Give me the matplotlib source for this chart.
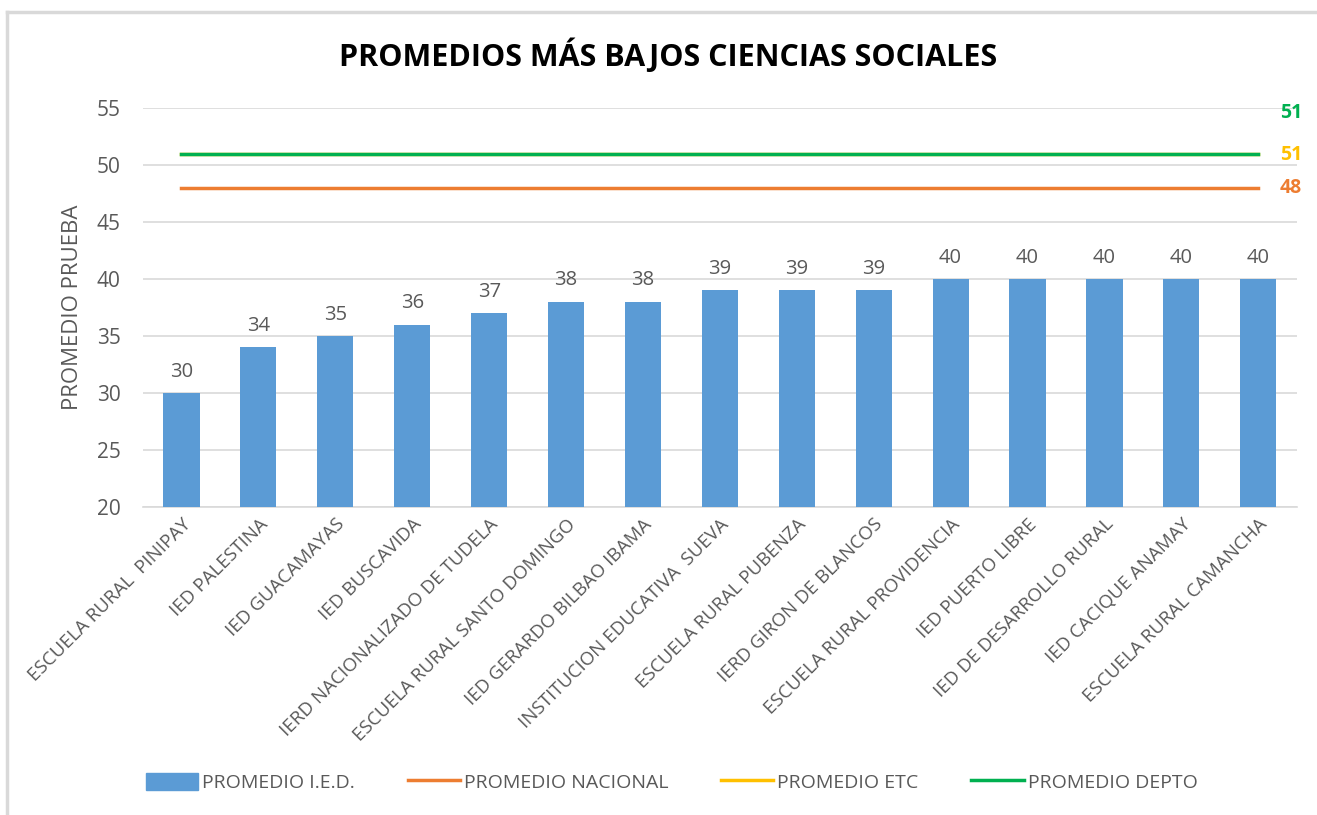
import matplotlib.pyplot as plt
from matplotlib.lines import Line2D
from matplotlib.patches import Patch

escuelas = ['ESCUELA RURAL  PINIPAY', 'IED PALESTINA', 'IED GUACAMAYAS', 'IED BUSCAVIDA',
            'IERD NACIONALIZADO DE TUDELA', 'ESCUELA RURAL SANTO DOMINGO', 'IED GERARDO BILBAO IBAMA',
            'INSTITUCION EDUCATIVA  SUEVA', 'ESCUELA RURAL PUBENZA', 'IERD GIRON DE BLANCOS',
            'ESCUELA RURAL PROVIDENCIA', 'IED PUERTO LIBRE', 'IED DE DESARROLLO RURAL',
            'IED CACIQUE ANAMAY', 'ESCUELA RURAL CAMANCHA']
promedio_ied = [30, 34, 35, 36, 37, 38, 38, 39, 39, 39, 40, 40, 40, 40, 40]
promedio_nacional = 48
promedio_etc = 51
promedio_depto = 51

gris = '#595959'
azul = '#5B9BD5'
naranja = '#ED7D31'
amarillo = '#FFC000'
verde = '#00B050'

plt.rcParams['font.family'] = ['Open Sans', 'DejaVu Sans']

fig = plt.figure(figsize=(13.17, 8.15), dpi=100)
ax = fig.add_axes([0.1086, 0.378, 0.876, 0.4895])

x = list(range(len(escuelas)))
ax.bar(x, [v - 20 for v in promedio_ied], bottom=20, width=0.47, color=azul, zorder=3)
for i, v in zip(x, promedio_ied):
    ax.text(i, v + 1.0, str(v), ha='center', va='bottom', fontsize=14.5, color=gris)

ax.plot([x[0], x[-1]], [promedio_nacional] * 2, color=naranja, lw=2.5, zorder=4)
ax.plot([x[0], x[-1]], [promedio_etc] * 2, color=amarillo, lw=2.5, zorder=4)
ax.plot([x[0], x[-1]], [promedio_depto] * 2, color=verde, lw=2.5, zorder=5)

ax.text(x[-1] + 0.28, promedio_nacional, str(promedio_nacional), color=naranja,
        fontsize=14, fontweight='bold', va='center', ha='left')
ax.text(x[-1] + 0.28, promedio_etc - 0.1, str(promedio_etc), color=amarillo,
        fontsize=14, fontweight='bold', va='center', ha='left')
ax.text(x[-1] + 0.28, 54.6, str(promedio_depto), color=verde,
        fontsize=14, fontweight='bold', va='center', ha='left')

ax.set_xlim(-0.5, len(escuelas) - 0.5)
ax.set_ylim(20, 55)
ax.set_yticks(range(20, 56, 5))
ax.yaxis.grid(True, color='#D9D9D9', lw=1.2, zorder=0)
ax.tick_params(axis='y', length=0, labelsize=15, labelcolor=gris, pad=16)
ax.tick_params(axis='x', length=0, labelsize=13.5, labelcolor=gris, pad=6)
ax.set_xticks(x)
ax.set_xticklabels(escuelas, rotation=45, ha='right', rotation_mode='anchor')
for s in ['top', 'right', 'left']:
    ax.spines[s].set_visible(False)
ax.spines['bottom'].set_color('#D9D9D9')
ax.spines['bottom'].set_linewidth(1.2)
ax.set_ylabel('PROMEDIO PRUEBA', fontsize=16, color=gris, labelpad=10)

fig.text(0.507, 0.932, 'PROMEDIOS MÁS BAJOS CIENCIAS SOCIALES', ha='center', va='center',
         fontsize=22, fontweight='bold', color='black')

handles = [Patch(color=azul), Line2D([], [], color=naranja, lw=2.5),
           Line2D([], [], color=amarillo, lw=2.5), Line2D([], [], color=verde, lw=2.5)]
labels = ['PROMEDIO I.E.D.', 'PROMEDIO NACIONAL', 'PROMEDIO ETC', 'PROMEDIO DEPTO']
leg = fig.legend(handles, labels, loc='center', bbox_to_anchor=(0.51, 0.04), ncol=4,
                 frameon=False, fontsize=14, columnspacing=2.7, handlelength=2.7,
                 handleheight=1.0, handletextpad=0.2)
for t in leg.get_texts():
    t.set_color(gris)

fig.add_artist(Line2D([0.0055, 0.0055], [0, 0.985], color='#D9D9D9', lw=2.5))
fig.add_artist(Line2D([0.0055, 1], [0.985, 0.985], color='#D9D9D9', lw=2.5))

fig.savefig('out.png', dpi=100)
